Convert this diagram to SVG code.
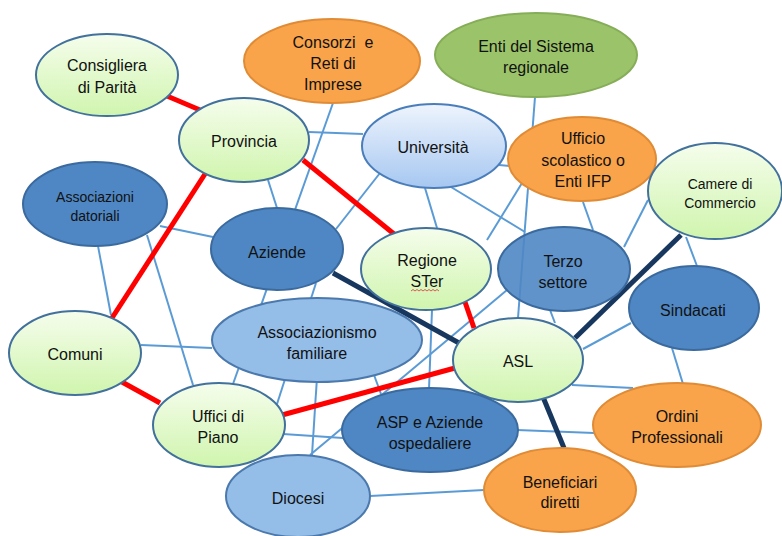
<svg xmlns="http://www.w3.org/2000/svg" width="782" height="536" viewBox="0 0 782 536">
<defs>
<linearGradient id="gGreen" x1="0" y1="0" x2="0" y2="1">
<stop offset="0" stop-color="#f5fdec"/><stop offset="1" stop-color="#d0f5ae"/>
</linearGradient>
<linearGradient id="gUni" x1="0" y1="0" x2="0" y2="1">
<stop offset="0" stop-color="#eef4fd"/><stop offset="1" stop-color="#a6c7f1"/>
</linearGradient>
<style>
.lg{fill:url(#gGreen);stroke:#41719c;stroke-width:2}
.or{fill:#f9a44a;stroke:#e08b35;stroke-width:2}
.gr{fill:#9bc46a;stroke:#86ad58;stroke-width:2}
.un{fill:url(#gUni);stroke:#4a7ebb;stroke-width:2}
.db{fill:#4f87c4;stroke:#3a6a9e;stroke-width:2}
.mb{fill:#94bde8;stroke:#4b79ad;stroke-width:2}
text{font-family:"Liberation Sans",Arial,sans-serif;font-size:16px;fill:#111;text-anchor:middle}
.sm{font-size:14px}
.b{stroke:#5b9bd5;stroke-width:2;fill:none}
.r{stroke:#ff0000;stroke-width:5;fill:none}
.n{stroke:#17375e;stroke-width:5;fill:none}
</style>
</defs>
<rect width="782" height="536" fill="#ffffff"/>
<g id="connectors">
<line class="b" x1="333" y1="103" x2="233" y2="384"/>
<line class="b" x1="309" y1="132" x2="363" y2="134"/>
<line class="b" x1="268" y1="180" x2="277" y2="208"/>
<line class="b" x1="380" y1="173" x2="336" y2="229"/>
<line class="b" x1="160" y1="226" x2="213" y2="237"/>
<line class="b" x1="98" y1="246" x2="111" y2="315"/>
<line class="b" x1="147" y1="235" x2="193" y2="385"/>
<line class="b" x1="425" y1="188" x2="437" y2="228"/>
<line class="b" x1="451" y1="187" x2="525" y2="232"/>
<line class="b" x1="499" y1="165" x2="510" y2="166"/>
<line class="b" x1="535" y1="97" x2="518" y2="318"/>
<line class="b" x1="522" y1="183" x2="487" y2="240"/>
<line class="b" x1="583" y1="202" x2="593" y2="230"/>
<line class="b" x1="648" y1="200" x2="624" y2="247"/>
<line class="b" x1="686" y1="237" x2="697" y2="266"/>
<line class="b" x1="310" y1="455" x2="507" y2="290"/>
<line class="b" x1="432" y1="310" x2="429" y2="389"/>
<line class="b" x1="550" y1="310" x2="555" y2="323"/>
<line class="b" x1="583" y1="349" x2="631" y2="323"/>
<line class="b" x1="572" y1="385" x2="633" y2="388"/>
<line class="b" x1="672" y1="348" x2="683" y2="384"/>
<line class="b" x1="517" y1="430" x2="594" y2="433"/>
<line class="b" x1="370" y1="496" x2="484" y2="490"/>
<line class="b" x1="141" y1="345" x2="212" y2="348"/>
<line class="b" x1="316" y1="283" x2="277" y2="404"/>
<line class="b" x1="370" y1="364" x2="381" y2="394"/>
<line class="b" x1="317" y1="377" x2="312" y2="455"/>
<line class="b" x1="283" y1="434" x2="343" y2="438"/>
<line class="r" x1="167" y1="96" x2="200" y2="110"/>
<line class="r" x1="205" y1="174" x2="112" y2="318"/>
<line class="r" x1="303" y1="160" x2="394" y2="234"/>
<line class="r" x1="122" y1="382" x2="160" y2="403"/>
<line class="r" x1="282" y1="415" x2="455" y2="368"/>
<line class="r" x1="465" y1="302" x2="474" y2="328"/>
<line class="n" x1="333" y1="273" x2="459" y2="343"/>
<line class="n" x1="575" y1="338" x2="681" y2="235"/>
<line class="n" x1="543" y1="397" x2="564" y2="448"/>
</g>
<g id="consigliera"><ellipse class="lg" cx="107" cy="75" rx="71" ry="41"/><text x="107" y="71">Consigliera</text><text x="107" y="93">di Parità</text></g>
<g id="consorzi"><ellipse class="or" cx="332" cy="61" rx="88" ry="42"/><text x="333" y="48" xml:space="preserve">Consorzi  e</text><text x="333" y="69">Reti di</text><text x="333" y="90">Imprese</text></g>
<g id="enti-sistema"><ellipse class="gr" cx="536" cy="55" rx="101" ry="42"/><text x="536" y="52">Enti del Sistema</text><text x="536" y="73">regionale</text></g>
<g id="provincia"><ellipse class="lg" cx="244" cy="140" rx="65" ry="42"/><text x="244" y="147">Provincia</text></g>
<g id="universita"><ellipse class="un" cx="434" cy="146" rx="72" ry="42"/><text x="433" y="153">Università</text></g>
<g id="ufficio-scolastico"><ellipse class="or" cx="582" cy="159" rx="74" ry="42"/><text x="583" y="144">Ufficio</text><text x="583" y="166">scolastico o</text><text x="583" y="187">Enti IFP</text></g>
<g id="camere"><ellipse class="lg" cx="715" cy="191" rx="67" ry="48"/><text class="sm" x="720" y="189">Camere di</text><text class="sm" x="720" y="208">Commercio</text></g>
<g id="associazioni-datoriali"><ellipse class="db" cx="95" cy="204" rx="72" ry="42"/><text class="sm" x="95" y="202">Associazioni</text><text class="sm" x="95" y="221">datoriali</text></g>
<g id="aziende"><ellipse class="db" cx="277" cy="249" rx="66" ry="41"/><text x="277" y="258">Aziende</text></g>
<g id="regione"><ellipse class="lg" cx="426" cy="269" rx="65" ry="41"/><text x="427" y="266">Regione</text><text x="427" y="287">STer</text><path d="M411 291 l2 -1.5 l2 1.5 l2 -1.5 l2 1.5 l2 -1.5 l2 1.5 l2 -1.5 l2 1.5 l2 -1.5 l2 1.5 l2 -1.5 l2 1.5 l2 -1.5 l2 1.5" fill="none" stroke="#e03030" stroke-width="0.8"/></g>
<g id="terzo-settore"><ellipse class="db" cx="564" cy="269" rx="66" ry="42" fill-opacity="0.9"/><text x="563" y="267">Terzo</text><text x="563" y="288">settore</text></g>
<g id="sindacati"><ellipse class="db" cx="694" cy="308" rx="65" ry="42"/><text x="693" y="316">Sindacati</text></g>
<g id="comuni"><ellipse class="lg" cx="75" cy="353" rx="66" ry="42"/><text x="75" y="360">Comuni</text></g>
<g id="associazionismo"><ellipse class="mb" cx="317" cy="340" rx="105" ry="42"/><text x="317" y="338">Associazionismo</text><text x="317" y="359">familiare</text></g>
<g id="asl"><ellipse class="lg" cx="518" cy="360" rx="65" ry="42"/><text x="518" y="367">ASL</text></g>
<g id="uffici-piano"><ellipse class="lg" cx="219" cy="425" rx="66" ry="42"/><text x="218" y="422">Uffici di</text><text x="218" y="443">Piano</text></g>
<g id="asp"><ellipse class="db" cx="430" cy="430" rx="88" ry="42"/><text x="430" y="428">ASP e Aziende</text><text x="430" y="449">ospedaliere</text></g>
<g id="ordini"><ellipse class="or" cx="677" cy="425" rx="84" ry="42"/><text x="677" y="422">Ordini</text><text x="677" y="443">Professionali</text></g>
<g id="diocesi"><ellipse class="mb" cx="298" cy="496" rx="72" ry="41"/><text x="298" y="504">Diocesi</text></g>
<g id="beneficiari"><ellipse class="or" cx="560" cy="490" rx="76" ry="42"/><text x="560" y="488">Beneficiari</text><text x="560" y="508">diretti</text></g>
</svg>
